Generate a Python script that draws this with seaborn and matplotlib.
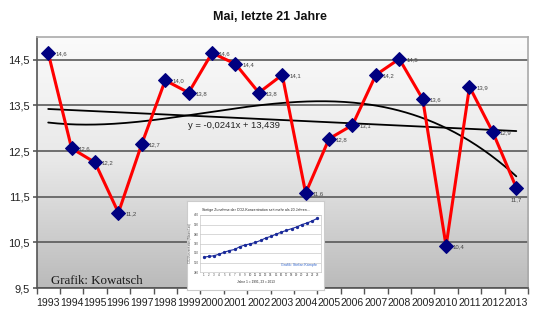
import numpy as np
import matplotlib
matplotlib.use("Agg")
import matplotlib.pyplot as plt
import seaborn as sns
from matplotlib.colors import LinearSegmentedColormap

# ---- data ----
years = [str(y) for y in range(1993, 2014)]
temps = [14.65, 12.56, 12.25, 11.15, 12.66, 14.05, 13.78, 14.65, 14.41, 13.78,
         14.17, 11.58, 12.77, 13.07, 14.17, 14.52, 13.64, 10.42, 13.91, 12.91, 11.70]
temp_labels = ["14,6", "12,6", "12,2", "11,2", "12,7", "14,0", "13,8", "14,6", "14,4", "13,8",
               "14,1", "11,6", "12,8", "13,1", "14,2", "14,5", "13,6", "10,4", "13,9", "12,9", "11,7"]
y_ticks = [9.5, 10.5, 11.5, 12.5, 13.5, 14.5]
y_tick_labels = ["9,5", "10,5", "11,5", "12,5", "13,5", "14,5"]

# inset: CO2 concentration (Mauna Loa), years 1..23
co2_years = list(range(1, 24))
co2_values = [355.6, 356.4, 357.1, 358.8, 360.8, 362.6, 363.7, 366.7, 368.4, 369.6, 371.1, 373.2,
              375.8, 377.5, 379.8, 381.9, 383.8, 385.6, 387.4, 389.9, 391.6, 393.8, 396.5]
co2_ticks = [340, 350, 360, 370, 380, 390, 400]

sns.set_theme(style="white")
plt.rcParams['font.family'] = ['Liberation Sans', 'DejaVu Sans']

fig = plt.figure(figsize=(5.4, 3.22), dpi=100)
fig.patch.set_facecolor("white")
ax = fig.add_axes([36.5 / 540, 1 - 288 / 322, (528 - 36.5) / 540, (288 - 37) / 322])

x = np.arange(len(years))
ax.set_xlim(-0.5, len(years) - 0.5)
ax.set_ylim(9.5, 15.0)

# gradient background (light at top, grey at bottom)
cmap = LinearSegmentedColormap.from_list("bg", ["#fbfbfb", "#e8e8e8", "#bababa"])
grad = np.linspace(0, 1, 256).reshape(-1, 1)
ax.imshow(grad, cmap=cmap, aspect="auto", extent=[-0.5, len(years) - 0.5, 9.5, 15.0],
          origin="upper", zorder=0)

for yt in y_ticks:
    ax.axhline(yt, color="#5a5a5a", lw=1.2, zorder=1)

# trend lines
coef1 = np.polyfit(x + 1, temps, 1)
xx = np.linspace(0, len(years) - 1, 200)
ax.plot(xx, np.polyval(coef1, xx + 1), color="black", lw=1.3, zorder=2)
coef3 = np.polyfit(x + 1, temps, 3)
ax.plot(xx, np.polyval(coef3, xx + 1), color="black", lw=1.3, zorder=2)

sns.lineplot(x=x, y=temps, ax=ax, color="#ff0000", lw=2.2, marker="D", markersize=7,
             markerfacecolor="#000080", markeredgecolor="#000080", zorder=3)

for i, (xv, yv, lab) in enumerate(zip(x, temps, temp_labels)):
    if i == len(years) - 1:
        ax.annotate(lab, (xv, yv), xytext=(0, -9), textcoords="offset points",
                    fontsize=4.3, color="#444444", ha="center", va="center", zorder=4)
    else:
        ax.annotate(lab, (xv, yv), xytext=(5, -0.5), textcoords="offset points",
                    fontsize=4.3, color="#444444", ha="left", va="center", zorder=4)

ax.text(5.97, 13.07, "y = -0,0241x + 13,439", fontsize=6.8, color="#222222", ha="left", va="center", zorder=4)
ax.text(0.12, 9.65, "Grafik: Kowatsch", fontsize=9.3, family=["Liberation Serif", "DejaVu Serif"],
        color="#1a1a1a", ha="left", va="center", zorder=4)

ax.set_xticks(x)
ax.set_xticklabels(years, fontsize=7.6, color="#222222")
ax.set_xticks(np.arange(-0.5, len(years), 1), minor=True)
ax.tick_params(axis="x", which="major", length=0, pad=7)
ax.tick_params(axis="x", which="minor", length=4, width=1, color="#555555", bottom=True, direction="out")
ax.set_yticks(y_ticks)
ax.set_yticklabels(y_tick_labels, fontsize=8, color="#222222")
ax.tick_params(axis="y", length=3, width=1.2, color="#5a5a5a", pad=2, left=True)
for side in ["left", "bottom"]:
    ax.spines[side].set_color("#555555")
    ax.spines[side].set_linewidth(1.2)
for side in ["top", "right"]:
    ax.spines[side].set_color("#aaaaaa")
    ax.spines[side].set_linewidth(1.2)
ax.set_xlabel("")
ax.set_ylabel("")

fig.text(270 / 540, 1 - 17 / 322, "Mai, letzte 21 Jahre", fontsize=9, fontweight="bold",
         ha="center", va="center", color="#111111")

# inset box
box = fig.add_axes([187 / 540, 1 - 290 / 322, 137 / 540, 89 / 322])
box.set_xticks([]); box.set_yticks([])
box.set_facecolor("white")
for s in box.spines.values():
    s.set_color("#cccccc"); s.set_linewidth(0.8)
box.text(0.5, 0.9, "Stetige Zunahme der CO2-Konzentration seit mehr als 20 Jahren...",
         fontsize=2.6, ha="center", va="center", transform=box.transAxes, color="#222222")
box.text(0.5, 0.1, "Jahre 1 = 1991, 23 = 2013", fontsize=2.3, ha="center", va="center",
         transform=box.transAxes, color="#222222")

inset = fig.add_axes([200 / 540, 1 - 272 / 322, 121 / 540, 57 / 322])
inset.set_facecolor("white")
sns.lineplot(x=co2_years, y=co2_values, ax=inset, color="#1a2a9a", lw=0.8, marker="o",
             markersize=1.6, markeredgecolor="#1a2a9a", markerfacecolor="#1a2a9a")
inset.set_ylim(340, 400)
inset.set_xlim(0.3, 23.7)
inset.set_yticks(co2_ticks)
inset.set_yticklabels([str(v) for v in co2_ticks], fontsize=2.2, color="#444444")
inset.set_xticks(co2_years)
inset.set_xticklabels([str(v) for v in co2_years], fontsize=2.2, color="#444444")
inset.tick_params(length=0, pad=1)
inset.grid(axis="y", color="#bbbbbb", lw=0.4)
inset.set_ylabel("CO2-Konzentration (Mauna Loa)", fontsize=2.0, labelpad=1, color="#444444")
inset.set_xlabel("")
for s in inset.spines.values():
    s.set_color("#bbbbbb"); s.set_linewidth(0.4)
inset.text(0.97, 0.12, "Grafik: Stefan Kämpfe", fontsize=2.6, color="#3366cc",
           ha="right", va="center", transform=inset.transAxes)

fig.savefig("out.png", dpi=100)
